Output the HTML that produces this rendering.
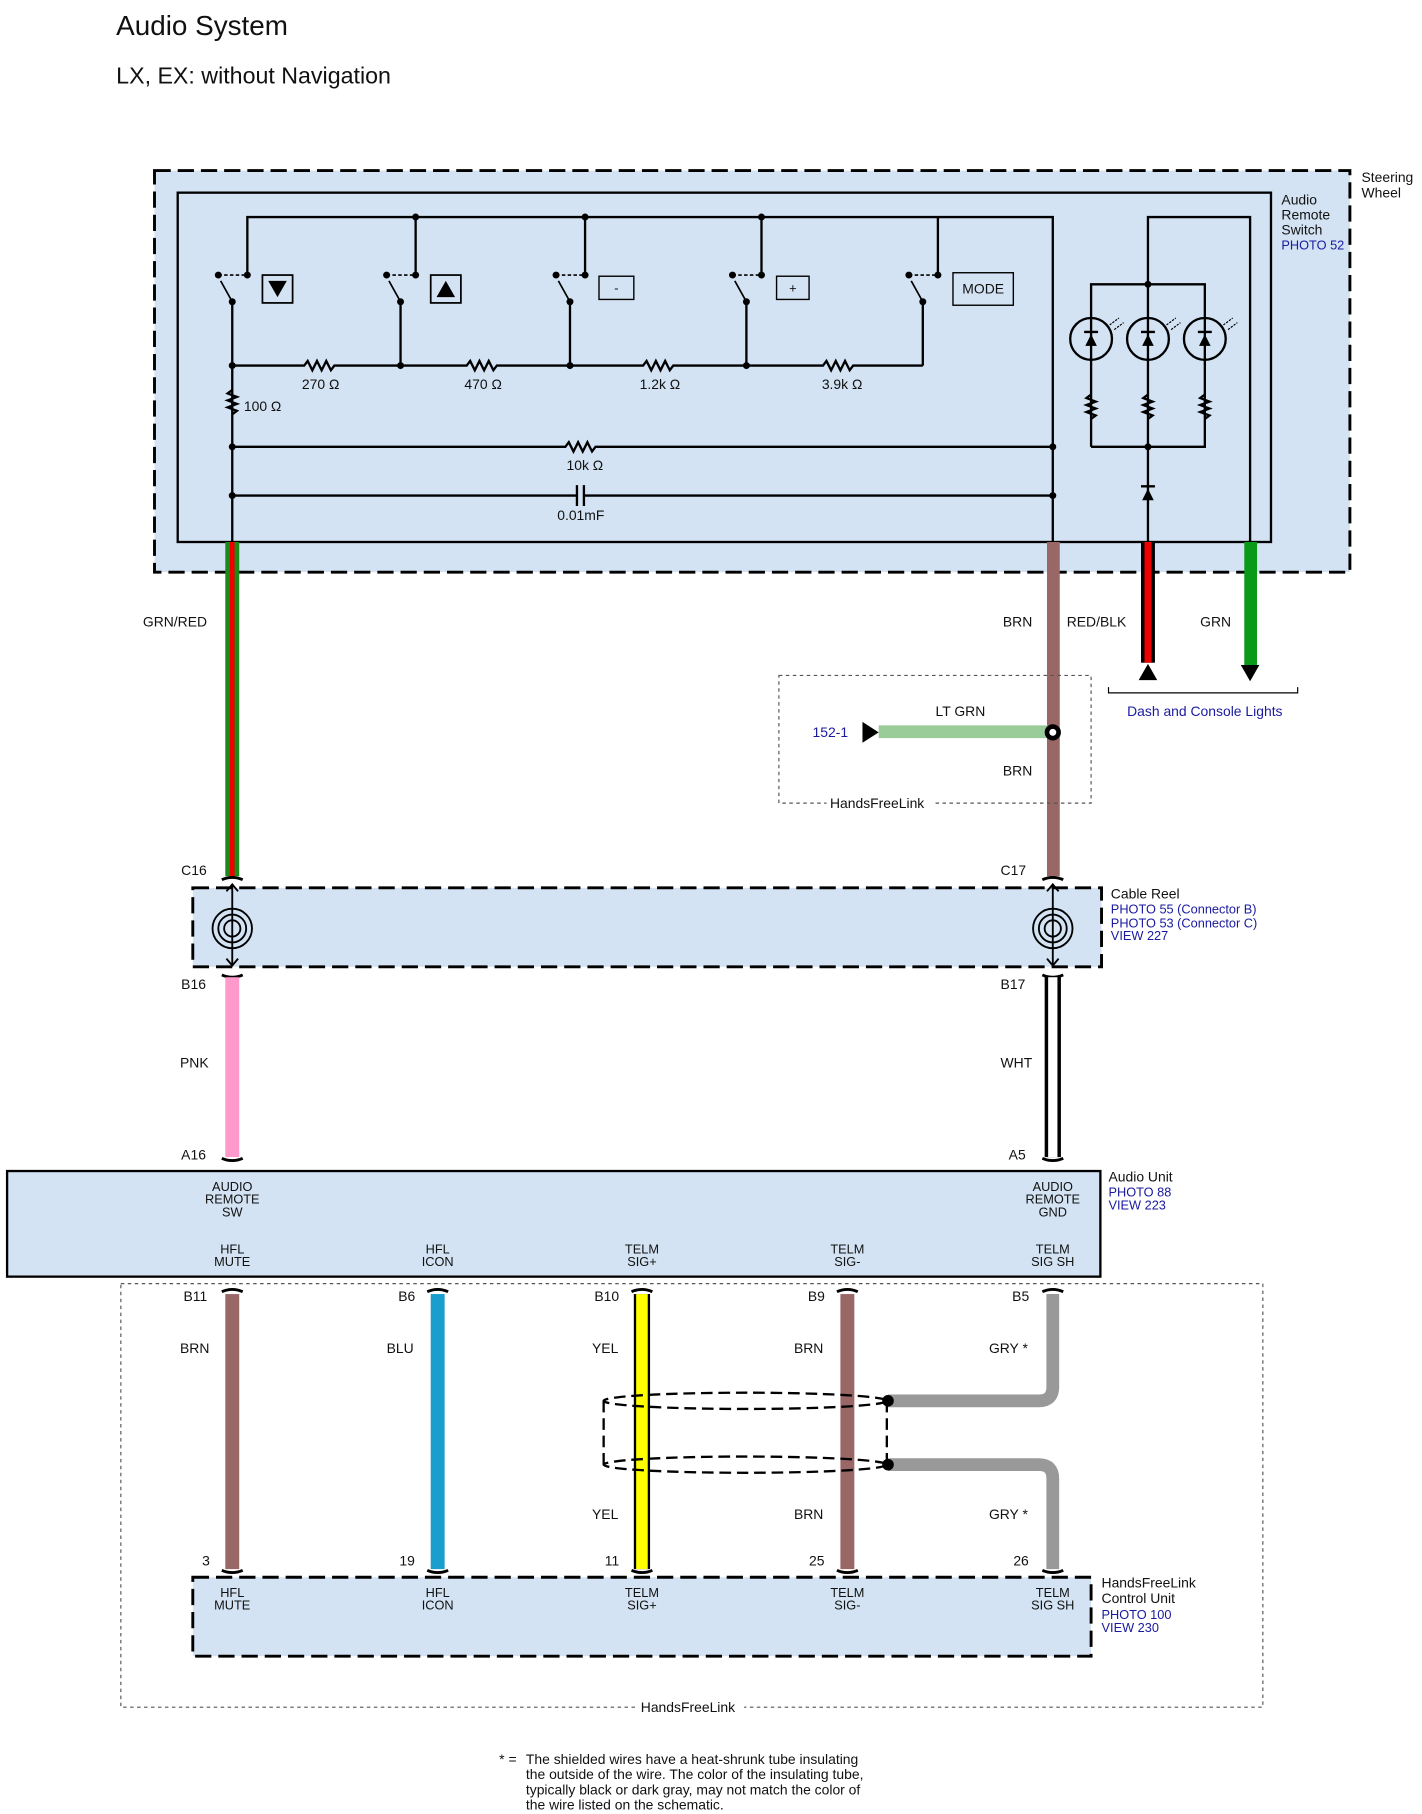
<!DOCTYPE html>
<html><head><meta charset="utf-8"><style>
html,body{margin:0;padding:0;background:#fff}
svg{display:block}
text{font-family:"Liberation Sans",sans-serif;fill:#111}
.b{fill:#1a1aa0}
</style></head><body>
<svg width="1422" height="1814" viewBox="0 0 1225 1563" xmlns="http://www.w3.org/2000/svg">
<text x="100" y="30" font-size="24">Audio System</text>
<text x="100" y="72" font-size="20">LX, EX: without Navigation</text>

<rect x="133" y="147" width="1030" height="346" fill="#d3e3f3" stroke="#000" stroke-width="2.5" stroke-dasharray="14,6"/>
<rect x="153" y="166" width="942" height="301" fill="none" stroke="#000" stroke-width="2"/>
<text x="1173" y="157" font-size="12">Steering</text><text x="1173" y="170" font-size="12">Wheel</text>
<text x="1104" y="176" font-size="12">Audio</text><text x="1104" y="189" font-size="12">Remote</text><text x="1104" y="202" font-size="12">Switch</text>
<text x="1104" y="215" font-size="11" class="b">PHOTO 52</text>

<g stroke="#000" stroke-width="2" fill="none">
<path d="M213 237V187H907V467"/>
<path d="M358 187V237M504 187V237M656 187V237M808 187V237"/>
<path d="M200 260V467M345 260V315M491 260V315M643 260V315M795 260V315"/>
<path d="M200 315H262l3-4 4 8 4-8 4 8 4-8 4 8 3-4H402l3-4 4 8 4-8 4 8 4-8 4 8 3-4H554l3-4 4 8 4-8 4 8 4-8 4 8 3-4H709l3-4 4 8 4-8 4 8 4-8 4 8 3-4H795"/>
<path d="M200 385H487l3-4 4 8 4-8 4 8 4-8 4 8 3-4H907"/>
<path d="M200 427H497M503 427H907M497 418V436M503 418V436"/>
<path d="M200 336l-4 3 8 3-8 3 8 3-8 3 8 3-4 3"/>
<path d="M200 260L190 242M345 260L335 242M491 260L481 242M643 260L633 242M795 260L785 242" stroke-width="1.5"/>
</g>
<g stroke="#000" stroke-width="1.3" stroke-dasharray="3,2" fill="none">
<path d="M188 237H213M333 237H358M479 237H504M631 237H656M783 237H808"/>
</g>
<g fill="#000">
<circle cx="188" cy="237" r="3"/><circle cx="213" cy="237" r="3"/><circle cx="200" cy="260" r="3"/>
<circle cx="333" cy="237" r="3"/><circle cx="358" cy="237" r="3"/><circle cx="345" cy="260" r="3"/>
<circle cx="479" cy="237" r="3"/><circle cx="504" cy="237" r="3"/><circle cx="491" cy="260" r="3"/>
<circle cx="631" cy="237" r="3"/><circle cx="656" cy="237" r="3"/><circle cx="643" cy="260" r="3"/>
<circle cx="783" cy="237" r="3"/><circle cx="808" cy="237" r="3"/><circle cx="795" cy="260" r="3"/>
<circle cx="358" cy="187" r="3"/><circle cx="504" cy="187" r="3"/><circle cx="656" cy="187" r="3"/>
<circle cx="200" cy="315" r="3"/><circle cx="345" cy="315" r="3"/><circle cx="491" cy="315" r="3"/><circle cx="643" cy="315" r="3"/>
<circle cx="200" cy="385" r="3"/><circle cx="200" cy="427" r="3"/><circle cx="907" cy="385" r="3"/><circle cx="907" cy="427" r="3"/>
</g>
<rect x="226" y="237" width="26" height="24" fill="none" stroke="#000" stroke-width="1.5"/>
<path d="M231 242h16l-8 14z" fill="#000"/>
<rect x="371" y="237" width="26" height="24" fill="none" stroke="#000" stroke-width="1.5"/>
<path d="M376 256h16l-8-14z" fill="#000"/>
<rect x="516" y="238" width="30" height="20" fill="none" stroke="#000" stroke-width="1.2"/><text x="531" y="252" font-size="11" text-anchor="middle">-</text>
<rect x="669" y="238" width="28" height="20" fill="none" stroke="#000" stroke-width="1.2"/><text x="683" y="252" font-size="11" text-anchor="middle">+</text>
<rect x="821" y="235" width="52" height="28" fill="none" stroke="#000" stroke-width="1.2"/><text x="847" y="253" font-size="12" text-anchor="middle">MODE</text>
<g font-size="12">
<text x="260" y="335">270 Ω</text><text x="400" y="335">470 Ω</text><text x="551" y="335">1.2k Ω</text><text x="708" y="335">3.9k Ω</text>
<text x="210" y="354">100 Ω</text><text x="488" y="405">10k Ω</text><text x="480" y="448">0.01mF</text>
</g>

<g stroke="#000" stroke-width="2" fill="none">
<path d="M989 245V187H1077V467"/>
<path d="M940 385V245H1038V385H940M989 245V467"/>
<circle cx="940" cy="292" r="18"/><circle cx="989" cy="292" r="18"/><circle cx="1038" cy="292" r="18"/>
<path d="M940 340l-4 3 8 3-8 3 8 3-8 3 8 3-4 3M989 340l-4 3 8 3-8 3 8 3-8 3 8 3-4 3M1038 340l-4 3 8 3-8 3 8 3-8 3 8 3-4 3"/>
<path d="M934 286h12M983 286h12M1032 286h12M983 419h12"/>
</g>
<g fill="#000"><path d="M935 298h10l-5-10zM984 298h10l-5-10zM1033 298h10l-5-10zM984 431h10l-5-10z"/>
<circle cx="989" cy="245" r="3"/><circle cx="989" cy="385" r="3"/></g>
<g stroke="#000" stroke-width="1" fill="none" stroke-dasharray="2,1"><path d="M956 280l8-6M960 284l8-6M1005 280l8-6M1009 284l8-6M1054 280l8-6M1058 284l8-6"/></g>

<rect x="194" y="467" width="12" height="288" fill="#1a8a1a"/><rect x="198" y="467" width="4" height="288" fill="#e00"/>
<rect x="902" y="467" width="11" height="288" fill="#9a6767"/>
<rect x="983" y="467" width="12" height="104" fill="#000"/><rect x="986" y="467" width="6" height="104" fill="#e00"/>
<path d="M981 586h16l-8-14z" fill="#000"/>
<rect x="1072" y="467" width="11" height="106" fill="#0a9a1a"/>
<path d="M1069 573h16l-8 14z" fill="#000"/>
<path d="M955 592v5h163v-5" stroke="#000" fill="none"/>
<text x="1038" y="617" font-size="12" class="b" text-anchor="middle">Dash and Console Lights</text>
<g font-size="12">
<text x="123" y="540">GRN/RED</text><text x="864" y="540">BRN</text><text x="919" y="540">RED/BLK</text><text x="1034" y="540">GRN</text>
</g>
<rect x="671" y="582" width="269" height="110" fill="none" stroke="#555" stroke-dasharray="3,3"/>
<rect x="712" y="686" width="92" height="12" fill="#fff"/>
<rect x="757" y="625" width="150" height="11" fill="#99cc99"/>
<path d="M743 622v18l14-9z" fill="#000"/>
<circle cx="907" cy="631" r="7" fill="#000"/><circle cx="907" cy="631" r="3" fill="#fff"/>
<text x="700" y="635" font-size="12" class="b">152-1</text>
<text x="806" y="617" font-size="12">LT GRN</text><text x="864" y="668" font-size="12">BRN</text>
<text x="715" y="696" font-size="12">HandsFreeLink</text>

<text x="156" y="754" font-size="12">C16</text><text x="862" y="754" font-size="12">C17</text>
<rect x="166" y="765" width="783" height="68" fill="#d3e3f3" stroke="#000" stroke-width="2.5" stroke-dasharray="14,6"/>
<text x="957" y="774" font-size="12">Cable Reel</text>
<text x="957" y="787" font-size="11" class="b">PHOTO 55 (Connector B)</text>
<text x="957" y="799" font-size="11" class="b">PHOTO 53 (Connector C)</text>
<text x="957" y="810" font-size="11" class="b">VIEW 227</text>
<g stroke="#000" stroke-width="1.6" fill="none">
<path d="M200 762V832M195 768l5-6 5 6M195 826l5 6 5-6"/>
<circle cx="200" cy="800" r="17"/><circle cx="200" cy="800" r="12"/><circle cx="200" cy="800" r="7"/>
<path d="M907 762V832M902 768l5-6 5 6M902 826l5 6 5-6"/>
<circle cx="907" cy="800" r="17"/><circle cx="907" cy="800" r="12"/><circle cx="907" cy="800" r="7"/>
<path d="M191 758q9 -4 18 0M898 758q9-4 18 0M191 840q9 4 18 0M898 840q9 4 18 0" stroke-width="2.5"/>
</g>
<text x="156" y="852" font-size="12">B16</text><text x="862" y="852" font-size="12">B17</text>
<rect x="194" y="842" width="12" height="155" fill="#ff99cc"/>
<rect x="900" y="842" width="14" height="155" fill="#000"/><rect x="903" y="842" width="8" height="155" fill="#fff"/>
<text x="155" y="920" font-size="12">PNK</text><text x="862" y="920" font-size="12">WHT</text>
<text x="156" y="999" font-size="12">A16</text><text x="869" y="999" font-size="12">A5</text>
<path d="M191 998q9 4 18 0M898 998q9 4 18 0" stroke="#000" stroke-width="2.5" fill="none"/>

<rect x="6" y="1009" width="942" height="91" fill="#d3e3f3" stroke="#000" stroke-width="2"/>
<text x="955" y="1018" font-size="12">Audio Unit</text>
<text x="955" y="1031" font-size="11" class="b">PHOTO 88</text><text x="955" y="1042" font-size="11" class="b">VIEW 223</text>
<g font-size="11" text-anchor="middle">
<text x="200" y="1026">AUDIO</text><text x="200" y="1037">REMOTE</text><text x="200" y="1048">SW</text>
<text x="907" y="1026">AUDIO</text><text x="907" y="1037">REMOTE</text><text x="907" y="1048">GND</text>
<text x="200" y="1080">HFL</text><text x="200" y="1091">MUTE</text>
<text x="377" y="1080">HFL</text><text x="377" y="1091">ICON</text>
<text x="553" y="1080">TELM</text><text x="553" y="1091">SIG+</text>
<text x="730" y="1080">TELM</text><text x="730" y="1091">SIG-</text>
<text x="907" y="1080">TELM</text><text x="907" y="1091">SIG SH</text>
</g>

<rect x="104" y="1106" width="984" height="365" fill="none" stroke="#555" stroke-dasharray="3,3"/>
<rect x="549" y="1465" width="92" height="12" fill="#fff"/>
<text x="552" y="1475" font-size="12">HandsFreeLink</text>
<g font-size="12">
<text x="158" y="1121">B11</text><text x="343" y="1121">B6</text><text x="512" y="1121">B10</text><text x="696" y="1121">B9</text><text x="872" y="1121">B5</text>
<text x="155" y="1166">BRN</text><text x="333" y="1166">BLU</text><text x="510" y="1166">YEL</text><text x="684" y="1166">BRN</text><text x="852" y="1166">GRY *</text>
<text x="510" y="1309">YEL</text><text x="684" y="1309">BRN</text><text x="852" y="1309">GRY *</text>
<text x="174" y="1349">3</text><text x="344" y="1349">19</text><text x="521" y="1349">11</text><text x="697" y="1349">25</text><text x="873" y="1349">26</text>
</g>
<rect x="194" y="1115" width="12" height="237" fill="#9a6767"/>
<rect x="371" y="1115" width="12" height="237" fill="#1a9fcc"/>
<rect x="546" y="1115" width="14" height="237" fill="#000"/><rect x="548" y="1115" width="10" height="237" fill="#ffff00"/>
<rect x="724" y="1115" width="12" height="237" fill="#9a6767"/>
<g stroke="#999" stroke-width="11" fill="none">
<path d="M907 1115V1195q0 12-12 12H765"/>
<path d="M765 1262H895q12 0 12 12V1352"/>
</g>
<g stroke="#000" stroke-width="2" fill="none" stroke-dasharray="10,5">
<ellipse cx="642" cy="1207" rx="122" ry="7"/><ellipse cx="642" cy="1262" rx="122" ry="7"/>
<path d="M520 1207V1262M764 1207V1262"/>
</g>
<circle cx="765" cy="1207" r="5" fill="#000"/><circle cx="765" cy="1262" r="5" fill="#000"/>
<path d="M191 1113q9-4 18 0M368 1113q9-4 18 0M544 1113q9-4 18 0M721 1113q9-4 18 0M898 1113q9-4 18 0M191 1353q9 4 18 0M368 1353q9 4 18 0M544 1353q9 4 18 0M721 1353q9 4 18 0M898 1353q9 4 18 0" stroke="#000" stroke-width="2.5" fill="none"/>

<rect x="166" y="1359" width="774" height="68" fill="#d3e3f3" stroke="#000" stroke-width="2.5" stroke-dasharray="14,6"/>
<text x="949" y="1368" font-size="12">HandsFreeLink</text><text x="949" y="1381" font-size="12">Control Unit</text>
<text x="949" y="1395" font-size="11" class="b">PHOTO 100</text><text x="949" y="1406" font-size="11" class="b">VIEW 230</text>
<g font-size="11" text-anchor="middle">
<text x="200" y="1376">HFL</text><text x="200" y="1387">MUTE</text>
<text x="377" y="1376">HFL</text><text x="377" y="1387">ICON</text>
<text x="553" y="1376">TELM</text><text x="553" y="1387">SIG+</text>
<text x="730" y="1376">TELM</text><text x="730" y="1387">SIG-</text>
<text x="907" y="1376">TELM</text><text x="907" y="1387">SIG SH</text>
</g>
<g font-size="12">
<text x="430" y="1520">* =</text>
<text x="453" y="1520">The shielded wires have a heat-shrunk tube insulating</text>
<text x="453" y="1533">the outside of the wire. The color of the insulating tube,</text>
<text x="453" y="1546">typically black or dark gray, may not match the color of</text>
<text x="453" y="1559">the wire listed on the schematic.</text>
</g>
</svg>
</body></html>
